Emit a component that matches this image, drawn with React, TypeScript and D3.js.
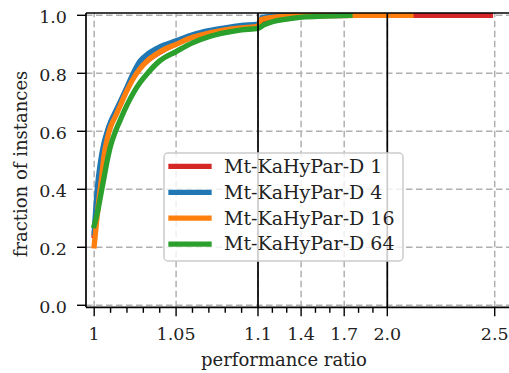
import React from "react";
import * as d3 from "d3";

const W = 509;
const H = 373;

const seriesLabels = ["Mt-KaHyPar-D 1", "Mt-KaHyPar-D 4", "Mt-KaHyPar-D 16", "Mt-KaHyPar-D 64"];

const ratiosD1 = [1.0, 1.002, 1.004, 1.006, 1.008, 1.01, 1.013, 1.016, 1.02, 1.024, 1.028, 1.033, 1.04, 1.05, 1.06, 1.07, 1.08, 1.09, 1.1, 1.15, 1.2, 1.3, 1.4, 1.6, 1.8, 2.48];
const fracD1 = [0.24, 0.37, 0.47, 0.545, 0.595, 0.628, 0.665, 0.7, 0.748, 0.79, 0.82, 0.846, 0.873, 0.902, 0.925, 0.939, 0.949, 0.956, 0.961, 0.985, 0.99, 0.994, 0.997, 0.999, 1.0, 1.0];

const ratiosD4 = [1.0, 1.002, 1.004, 1.006, 1.008, 1.01, 1.013, 1.016, 1.02, 1.024, 1.028, 1.033, 1.04, 1.05, 1.06, 1.07, 1.08, 1.09, 1.1, 1.13, 1.2, 1.3, 1.5];
const fracD4 = [0.25, 0.41, 0.5, 0.56, 0.6, 0.632, 0.668, 0.703, 0.752, 0.802, 0.842, 0.868, 0.891, 0.912, 0.933, 0.947, 0.957, 0.965, 0.97, 0.993, 0.997, 0.999, 1.0];

const ratiosD16 = [1.0, 1.0015, 1.003, 1.0045, 1.006, 1.008, 1.01, 1.013, 1.016, 1.02, 1.024, 1.028, 1.033, 1.04, 1.05, 1.06, 1.07, 1.08, 1.09, 1.1, 1.12, 1.2, 1.3, 1.4, 1.6, 2.11];
const fracD16 = [0.205, 0.29, 0.37, 0.44, 0.515, 0.575, 0.615, 0.652, 0.69, 0.74, 0.783, 0.816, 0.846, 0.874, 0.9, 0.924, 0.939, 0.95, 0.957, 0.962, 0.985, 0.993, 0.997, 0.999, 1.0, 1.0];

const ratiosD64 = [1.0, 1.002, 1.004, 1.006, 1.008, 1.01, 1.013, 1.016, 1.02, 1.024, 1.028, 1.033, 1.04, 1.05, 1.06, 1.07, 1.08, 1.09, 1.1, 1.137, 1.2, 1.3, 1.41, 1.58, 1.74];
const fracD64 = [0.275, 0.32, 0.38, 0.44, 0.5, 0.55, 0.6, 0.64, 0.69, 0.733, 0.768, 0.803, 0.843, 0.875, 0.905, 0.926, 0.94, 0.95, 0.955, 0.966, 0.978, 0.987, 0.994, 0.997, 1.0];

const xMajorTicks = [1, 1.05, 1.1, 1.4, 1.7, 2.0, 2.5];
const xMajorLabels = ["1", "1.05", "1.1", "1.4", "1.7", "2.0", "2.5"];
const xMinorTicks = [1.01, 1.02, 1.03, 1.04, 1.06, 1.07, 1.08, 1.09, 1.2, 1.3, 1.5, 1.6, 1.8, 1.9];
const yTicks = [0, 0.2, 0.4, 0.6, 0.8, 1.0];
const yTickLabels = ["0.0", "0.2", "0.4", "0.6", "0.8", "1.0"];
const segmentBreaks = [1.1, 2.0];

const colors = ["#d62728", "#1f77b4", "#ff7f0e", "#2ca02c"];
const FONT = "DejaVu Serif";

const PL = 86;
const PT = 13;
const PB = 307.3;
const PR = W;

export default function App() {
  const x = d3.scaleLinear().domain([0.995, 1.1, 2.0, 2.6]).range([PL, 258, 387.3, 516.2]);
  const y = d3.scaleLinear().domain([-0.007, 1.008]).range([PB, PT]);

  const series = [
    ratiosD1.map((r, i) => [r, fracD1[i]] as [number, number]),
    ratiosD4.map((r, i) => [r, fracD4[i]] as [number, number]),
    ratiosD16.map((r, i) => [r, fracD16[i]] as [number, number]),
    ratiosD64.map((r, i) => [r, fracD64[i]] as [number, number]),
  ];
  const line = d3
    .line<[number, number]>()
    .x((d) => x(d[0]))
    .y((d) => y(d[1]))
    .curve(d3.curveMonotoneX);

  const gridColor = "#b0b0b0";
  const dash = "6.5,3.5";
  const lw = 5.3;

  const legX = 164;
  const legY = 153;
  const legW = 239;
  const legH = 108;
  const rowY = [166.3, 192.3, 218.2, 244.1];

  return (
    <svg
      width={W}
      height={H}
      viewBox={`0 0 ${W} ${H}`}
      style={{ position: "absolute", left: 0, top: 0, background: "#fff" }}
    >
      <defs>
        <clipPath id="plotclip">
          <rect x={PL} y={PT} width={PR - PL} height={PB - PT} />
        </clipPath>
      </defs>
      <rect x={0} y={0} width={W} height={H} fill="#fff" />
      <g stroke={gridColor} strokeWidth={1.5} strokeDasharray={dash}>
        {yTicks.map((t) => (
          <line key={"gy" + t} x1={PL} x2={PR} y1={y(t)} y2={y(t)} />
        ))}
        {xMajorTicks.map((t) => (
          <line key={"gx" + t} x1={x(t)} x2={x(t)} y1={PB} y2={PT} />
        ))}
      </g>
      <g clipPath="url(#plotclip)" fill="none">
        {series.map((s, i) => (
          <path
            key={"s" + i}
            d={line(s) || ""}
            stroke={colors[i]}
            strokeWidth={lw}
            strokeLinecap="square"
            strokeLinejoin="round"
          />
        ))}
      </g>
      {segmentBreaks.map((b) => (
        <line key={"b" + b} x1={x(b)} x2={x(b)} y1={PT} y2={PB} stroke="#000" strokeWidth={1.7} />
      ))}
      <g stroke="#000" strokeWidth={1.7}>
        <line x1={PL} x2={PL} y1={PT} y2={PB} />
        <line x1={PL} x2={PR} y1={PB} y2={PB} />
        <line x1={PL} x2={PR} y1={PT} y2={PT} />
      </g>
      <g stroke="#000" strokeWidth={1.4}>
        {xMajorTicks.map((t) => (
          <line key={"xt" + t} x1={x(t)} x2={x(t)} y1={PB} y2={PB + 9} />
        ))}
        {xMinorTicks.map((t) => (
          <line key={"xm" + t} x1={x(t)} x2={x(t)} y1={PB} y2={PB + 5.5} />
        ))}
        {yTicks.map((t) => (
          <line key={"yt" + t} x1={PL} x2={PL - 9} y1={y(t)} y2={y(t)} />
        ))}
      </g>
      <g fontFamily={FONT} fontSize={17.5} fill="#222">
        {xMajorTicks.map((t, i) => (
          <text key={"xl" + t} x={x(t)} y={340} textAnchor="middle">
            {xMajorLabels[i]}
          </text>
        ))}
        {yTicks.map((t, i) => (
          <text key={"yl" + t} x={67} y={y(t) + 8} textAnchor="end">
            {yTickLabels[i]}
          </text>
        ))}
      </g>
      <text x={284} y={366} textAnchor="middle" fontFamily={FONT} fontSize={18} fill="#222">
        performance ratio
      </text>
      <text
        transform={`translate(26.5,164) rotate(-90)`}
        textAnchor="middle"
        fontFamily={FONT}
        fontSize={18}
        fill="#222"
      >
        fraction of instances
      </text>
      <rect
        x={legX}
        y={legY}
        width={legW}
        height={legH}
        rx={4}
        ry={4}
        fill="#fff"
        fillOpacity={0.8}
        stroke="#cccccc"
        strokeWidth={1.5}
      />
      {seriesLabels.map((name, i) => (
        <g key={"lg" + i}>
          <line
            x1={171}
            x2={209}
            y1={rowY[i]}
            y2={rowY[i]}
            stroke={colors[i]}
            strokeWidth={lw}
            strokeLinecap="square"
          />
          <text x={224} y={rowY[i] + 6.3} fontFamily={FONT} fontSize={19} fill="#222">
            {name}
          </text>
        </g>
      ))}
    </svg>
  );
}
